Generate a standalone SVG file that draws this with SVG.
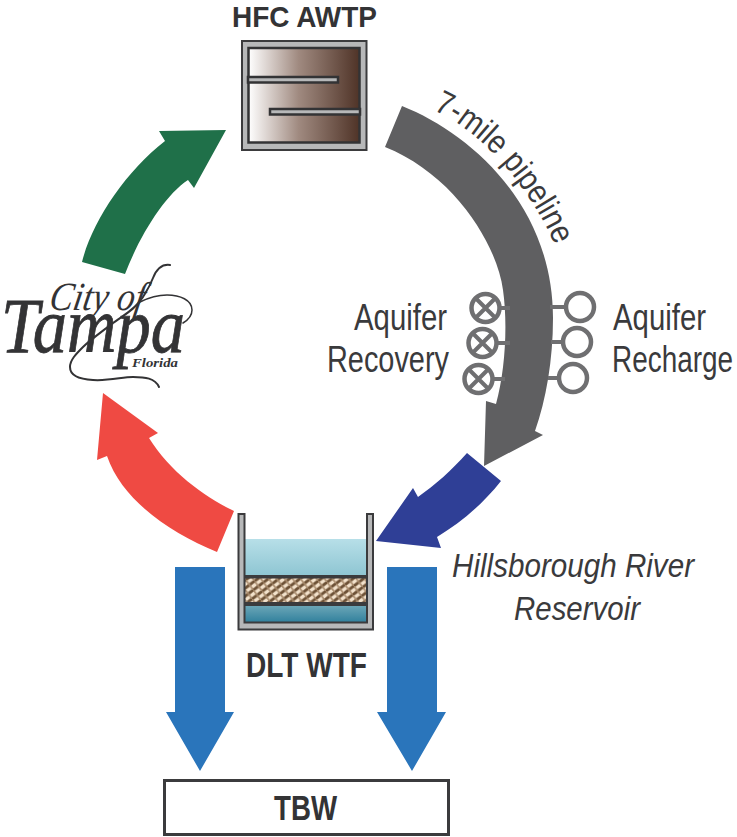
<svg xmlns="http://www.w3.org/2000/svg" width="737" height="837" viewBox="0 0 737 837">
<style>
.b{font-family:"Liberation Sans",Arial,sans-serif;font-weight:700;fill:#333335;font-size:35px}
.r{font-family:"Liberation Sans",Arial,sans-serif;fill:#3a3a3c;font-size:36px}
.i{font-style:italic;font-size:34px}
.s{font-family:"Liberation Serif","Times New Roman",serif;fill:#333335;font-style:italic}
.v{fill:#fff;stroke:#6f6f71;stroke-width:4.5}
.l{stroke:#6f6f71;stroke-width:4;fill:none}
.x{stroke:#6f6f71;stroke-width:4;fill:none}
.d{fill:#3b3b3d}
.f{fill:#b7b8b9;stroke:#333335;stroke-width:2.5}
.w{fill:none;stroke:#333335;stroke-linecap:round}
</style>
<defs>
<linearGradient id="brown" x1="0" x2="1" y1="0" y2="0"><stop offset="0" stop-color="#ffffff"/><stop offset=".45" stop-color="#a08a80"/><stop offset="1" stop-color="#4f3327"/></linearGradient>
<linearGradient id="wt" x1="0" x2="0" y1="0" y2="1"><stop offset="0" stop-color="#b7dfe8"/><stop offset="1" stop-color="#8ec5d2"/></linearGradient>
<linearGradient id="wb" x1="0" x2="0" y1="0" y2="1"><stop offset="0" stop-color="#6aa5b6"/><stop offset="1" stop-color="#2f7f9c"/></linearGradient>
<pattern id="hatch" width="9" height="9" patternUnits="userSpaceOnUse" patternTransform="rotate(8)">
<rect width="9" height="9" fill="#f3e2cc"/>
<path d="M-1,10 L10,-1 M-1,1 L1,-1 M8,10 L10,8" stroke="#6d5136" stroke-width="3"/>
<path d="M-1,-1 L10,10" stroke="#a98c6e" stroke-width="1.6"/>
</pattern>
<path id="pp" d="M433,110 C480,130 530,185 558,252"/>
</defs>

<g id="connectors">
<path id="arrow-green" fill="#1f7049" d="M82,262 C92,222 125,172 165,141 L159,131 L226,130 L194,188 L188,180 C165,195 140,235 125,274 Z"/>
<path id="arrow-red" fill="#ef4a43" d="M217,552 C170,533 122,500 107,456 L97,460 L103,393 L158,433 L149,438 C170,472 205,497 234,511 Z"/>
<path id="arrow-gray" fill="#5f5f61" d="M402,106 C470,133 553,205 553,318 C553,360 546,400 535,431 L543,435 L484,466 L486,401 L496,404 C505,372 508,325 503,290 C497,245 455,175 385,147 Z"/>
<path id="arrow-navy" fill="#2f3f96" d="M467,453 L501,481 C482,505 460,523 437,537 L441,548 L376,541 L413,488 L418,497 C435,485 452,470 467,453 Z"/>
<path id="arrow-tbw-left" fill="#2a75bb" d="M175,567 H225 V712 H234 L200,771 L166,712 H175 Z"/>
<path id="arrow-tbw-right" fill="#2a75bb" d="M387,567 H437 V712 H446 L412,771 L377,712 H387 Z"/>
</g>

<g id="hfc-awtp">
<text class="b" x="232" y="27" textLength="145" lengthAdjust="spacingAndGlyphs" style="font-size:30px">HFC AWTP</text>
<rect x="242" y="41" width="124.500" height="109" fill="#b7b8b9" stroke="#3b3b3d" stroke-width="2"/>
<rect x="248.500" y="48" width="111" height="94.500" fill="url(#brown)" stroke="#333335" stroke-width="2.500"/>
<rect class="f" x="248" y="77" width="90" height="5.500"/>
<rect class="f" x="270" y="109" width="90" height="5.500"/>
</g>

<g id="city-of-tampa">
<text class="s" x="1" y="352" textLength="184" lengthAdjust="spacingAndGlyphs" stroke="#333335" stroke-width=".8" style="font-size:78px">Tampa</text>
<text class="s" transform="translate(48 310) skewX(-10)" x="0" y="0" textLength="95" lengthAdjust="spacingAndGlyphs" style="font-size:40px">City of</text>
<text class="s" x="132" y="367" textLength="46" lengthAdjust="spacingAndGlyphs" style="font-size:13px;font-weight:700">Florida</text>
<path class="w" stroke-width="2" d="M170,265 C163,264 157,268 153,278 C149,288 146,292 143,297 C135,310 122,316 113,323 C100,333 90,340 83,347 C76,354 70,360 70,367 C70,374 75,379 93,380 C110,381 122,377 133,377 C145,377 155,378 159,387"/>
<path class="w" stroke-width="1.500" d="M140,302 C150,297 158,295 167,295 C180,295 192,300 192,310 C192,316 188,320 183,323"/>
</g>

<g id="aquifer">
<text class="r" x="354" y="330" textLength="93" lengthAdjust="spacingAndGlyphs">Aquifer</text>
<text class="r" x="327" y="372" textLength="122" lengthAdjust="spacingAndGlyphs">Recovery</text>
<text class="r" x="613" y="330" textLength="93" lengthAdjust="spacingAndGlyphs">Aquifer</text>
<text class="r" x="612" y="372" textLength="121" lengthAdjust="spacingAndGlyphs">Recharge</text>
<path class="l" d="M500,308 H510 M497,343 H510 M493,379 H505 M550,307 H566 M551,342 H563 M548,378 H559"/>
<circle class="v" cx="485.500" cy="308" r="14"/>
<circle class="v" cx="482.500" cy="343" r="14"/>
<circle class="v" cx="478.500" cy="379" r="14"/>
<path class="x" d="M476.500,299 L494.500,317 M494.500,299 L476.500,317 M473.500,334 L491.500,352 M491.500,334 L473.500,352 M469.500,370 L487.500,388 M487.500,370 L469.500,388"/>
<circle class="v" cx="580" cy="307" r="14"/>
<circle class="v" cx="577" cy="342" r="14"/>
<circle class="v" cx="573" cy="378" r="14"/>
</g>

<g id="pipeline-label">
<text class="r" style="font-size:33px"><textPath href="#pp" textLength="186" lengthAdjust="spacingAndGlyphs">7-mile pipeline</textPath></text>
</g>

<g id="dlt-wtf">
<rect x="245" y="539" width="122" height="37" fill="url(#wt)"/>
<rect x="245" y="578" width="122" height="24" fill="url(#hatch)"/>
<rect x="245" y="575" width="122" height="3.500" class="d"/>
<rect x="245" y="602" width="122" height="4" class="d"/>
<rect x="245" y="606" width="122" height="17" fill="url(#wb)"/>
<path d="M238.500,514 H244.500 V622.500 H367 V514 H373 V629.500 H238.500 Z" fill="#b7b8b9" stroke="#3b3b3d" stroke-width="2"/>
<text class="b" x="246" y="677" textLength="121" lengthAdjust="spacingAndGlyphs">DLT WTF</text>
</g>

<g id="reservoir">
<text class="r i" x="452" y="577" textLength="242" lengthAdjust="spacingAndGlyphs">Hillsborough River</text>
<text class="r i" x="514" y="620" textLength="126" lengthAdjust="spacingAndGlyphs">Reservoir</text>
</g>

<g id="tbw">
<rect x="164.500" y="780.500" width="284" height="54" fill="#fff" stroke="#3b3b3d" stroke-width="3"/>
<text class="b" x="274" y="820" textLength="63" lengthAdjust="spacingAndGlyphs">TBW</text>
</g>
</svg>
